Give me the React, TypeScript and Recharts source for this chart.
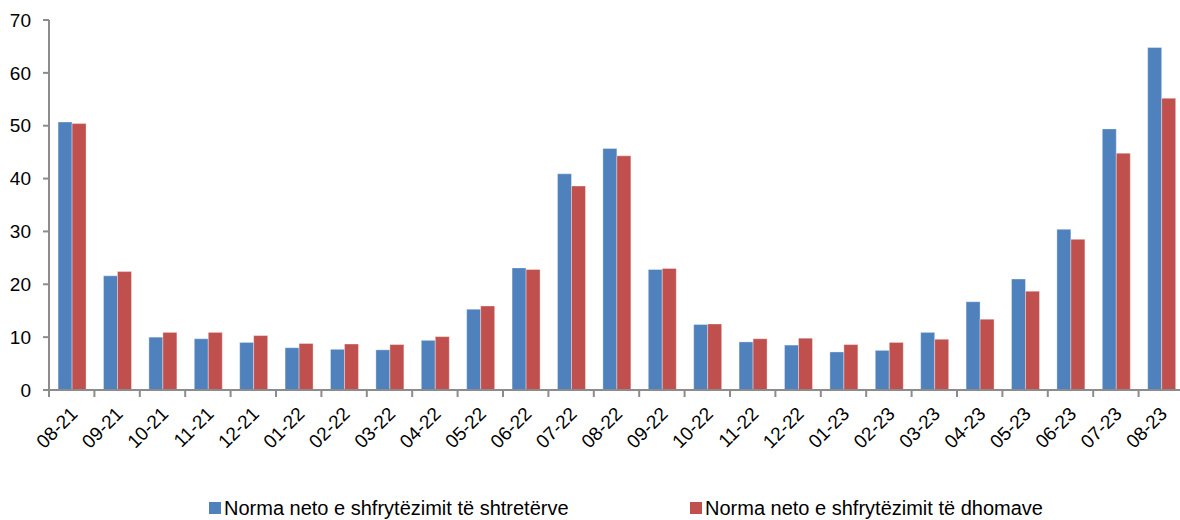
import React from "react";
import { Bar, BarChart, Legend, XAxis, YAxis } from "recharts";

const MONTHS = [
  "08-21", "09-21", "10-21", "11-21", "12-21", "01-22", "02-22", "03-22",
  "04-22", "05-22", "06-22", "07-22", "08-22", "09-22", "10-22", "11-22",
  "12-22", "01-23", "02-23", "03-23", "04-23", "05-23", "06-23", "07-23",
  "08-23",
];

const BED_RATE = [
  50.7, 21.6, 10.0, 9.7, 9.0, 8.0, 7.7, 7.6, 9.4, 15.3, 23.1, 40.9, 45.7,
  22.8, 12.4, 9.1, 8.5, 7.2, 7.5, 10.9, 16.7, 21.0, 30.4, 49.4, 64.8,
];

const ROOM_RATE = [
  50.4, 22.4, 10.9, 10.9, 10.3, 8.8, 8.7, 8.6, 10.1, 15.9, 22.8, 38.6, 44.3,
  23.0, 12.5, 9.7, 9.8, 8.6, 9.0, 9.6, 13.4, 18.7, 28.5, 44.8, 55.2,
];

const Y_TICKS = [0, 10, 20, 30, 40, 50, 60, 70];

const SERIES = [
  { key: "beds", label: "Norma neto e shfrytëzimit të shtretërve", color: "#4f81bd" },
  { key: "rooms", label: "Norma neto e shfrytëzimit të dhomave", color: "#c0504d" },
];

const data = MONTHS.map((month, i) => ({
  month,
  beds: BED_RATE[i],
  rooms: ROOM_RATE[i],
}));

const FONT = "'Liberation Sans', Arial, sans-serif";
const AXIS_COLOR = "#8c8c8c";

function MonthTick(props: any) {
  const { x, y, payload } = props;
  const half = payload?.offset ?? 0;
  const tx = x + 7;
  const ty = y + 25;
  return (
    <g>
      <line x1={x - half} y1={y} x2={x - half} y2={y + 7} stroke={AXIS_COLOR} strokeWidth={2} />
      <text
        x={tx}
        y={ty}
        transform={`rotate(-45, ${tx}, ${ty})`}
        textAnchor="end"
        fill="#000"
        fontSize={19}
        fontFamily={FONT}
      >
        {payload.value}
      </text>
    </g>
  );
}

function LegendContent() {
  const positions = [209, 690];
  return (
    <div style={{ position: "relative", height: 24, fontFamily: FONT, fontSize: 20, color: "#000" }}>
      {SERIES.map((s, i) => (
        <div
          key={s.key}
          style={{
            position: "absolute",
            left: positions[i],
            top: 0,
            height: 24,
            display: "flex",
            alignItems: "center",
            whiteSpace: "nowrap",
          }}
        >
          <span style={{ width: 12, height: 12, background: s.color, marginRight: 3, display: "inline-block" }} />
          <span>{s.label}</span>
        </div>
      ))}
    </div>
  );
}

export default function App() {
  return (
    <div style={{ position: "absolute", left: 0, top: 0, width: 1180, height: 520, overflow: "hidden", background: "#fff" }}>
      <BarChart
        width={1184}
        height={520}
        data={data}
        margin={{ top: 20, right: 0, bottom: 0, left: 0 }}
        barCategoryGap="20%"
        barGap={0}
        style={{ fontFamily: FONT }}
      >
        <XAxis
          dataKey="month"
          interval={0}
          height={106}
          axisLine={{ stroke: AXIS_COLOR, strokeWidth: 2 }}
          tickLine={false}
          tickSize={0}
          tickMargin={0}
          tick={<MonthTick />}
        />
        <YAxis
          width={49}
          domain={[0, 70]}
          ticks={Y_TICKS}
          interval={0}
          axisLine={{ stroke: AXIS_COLOR, strokeWidth: 2 }}
          tickLine={{ stroke: AXIS_COLOR, strokeWidth: 2 }}
          tickSize={6}
          tickMargin={12}
          tick={{ fill: "#000", fontSize: 19, fontFamily: FONT }}
        />
        <Legend verticalAlign="bottom" wrapperStyle={{ left: 0, width: 1180 }} content={<LegendContent />} />
        {SERIES.map((s) => (
          <Bar
            key={s.key}
            dataKey={s.key}
            name={s.label}
            fill={s.color}
            stroke="#ffffff"
            strokeOpacity={0.45}
            strokeWidth={0.8}
            isAnimationActive={false}
          />
        ))}
      </BarChart>
    </div>
  );
}
